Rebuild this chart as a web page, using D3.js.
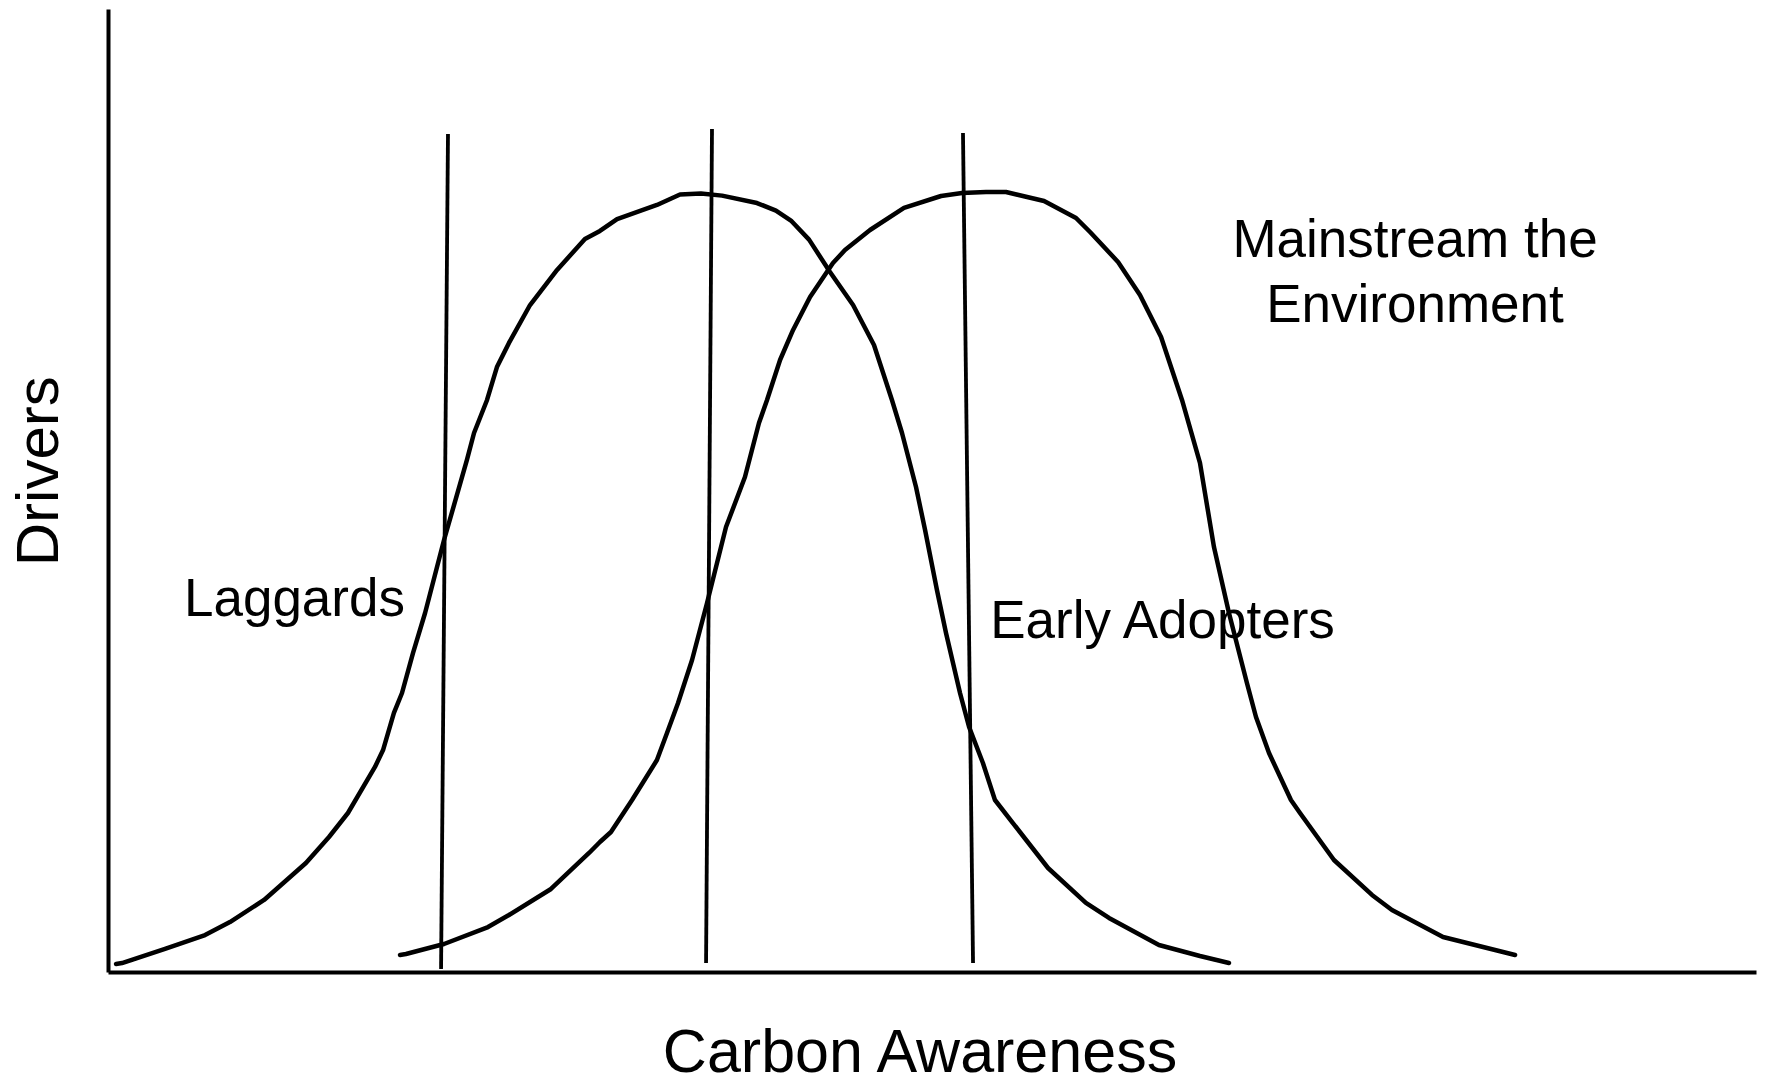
<!DOCTYPE html>
<html>
<head>
<meta charset="utf-8">
<script src="https://cdn.jsdelivr.net/npm/d3@7/dist/d3.min.js"></script>
<style>
  html, body { margin: 0; padding: 0; background: #fff; }
  svg { display: block; }
  text { font-family: "Liberation Sans", Arial, sans-serif; fill: #000; }
</style>
</head>
<body>
<svg id="chart" width="1768" height="1087"></svg>
<script>
// ---- Data (x = Carbon Awareness, y = Drivers, both 0..100) ----
const laggardsCurveX = [0.49,0.85,3.46,5.89,7.40,9.47,12.01,13.41,14.56,16.20,16.69,17.35,17.84,18.51,19.24,20.39,21.78,22.21,23.00,23.60,24.33,25.61,27.25,28.94,29.85,30.89,33.31,34.71,35.98,37.26,39.38,40.53,41.44,42.54,43.81,45.21,46.48,47.57,48.18,49.03,49.58,50.30,50.85,51.70,52.25,53.09,53.82,54.91,57.04,59.34,60.74,63.77,66.26,68.02];
const laggardsCurveY = [0.83,0.93,2.39,3.84,5.19,7.48,11.32,14.02,16.51,21.29,23.05,26.90,28.97,33.13,37.28,44.86,53.17,55.97,59.40,62.82,65.32,69.26,72.90,76.12,76.95,78.19,79.65,80.73,80.83,80.62,79.85,79.07,78.03,76.05,72.69,69.26,65.11,59.40,55.97,50.36,45.90,39.67,35.20,28.97,25.44,21.70,17.86,15.47,10.80,7.17,5.61,2.80,1.66,0.93];

const adoptersCurveX = [17.72,18.08,20.39,23.06,24.33,26.88,29.19,29.85,30.52,31.80,33.31,33.92,34.59,35.44,36.35,37.50,38.65,39.50,39.99,40.78,41.57,42.60,43.99,44.72,46.24,48.30,50.55,51.82,53.28,54.49,56.80,58.74,59.59,61.29,62.62,63.90,65.17,66.26,67.11,68.02,69.11,69.66,70.45,71.78,72.33,74.39,76.70,77.91,81.01,85.38];
const adoptersCurveY = [1.77,1.87,2.91,4.67,5.92,8.62,12.36,13.50,14.54,17.86,22.01,24.82,27.93,32.40,38.32,46.21,51.40,57.01,59.40,63.55,66.67,70.09,73.62,74.97,77.05,79.34,80.58,80.89,81.00,81.00,80.06,78.30,76.84,73.73,70.30,65.94,59.40,52.86,44.13,37.28,30.01,26.48,22.74,17.86,16.51,11.63,8.00,6.44,3.63,1.77];

// dividing lines: [x at top, y top, x at bottom, y bottom]
const dividerTopX = [20.63, 36.65, 51.88];
const dividerTopY = [87.02, 87.54, 87.12];
const dividerBottomX = [20.21, 36.29, 52.49];
const dividerBottomY = [0.31, 0.93, 0.93];

const labelTexts = [["Laggards"], ["Early Adopters"], ["Mainstream the", "Environment"]];
const labelX = [4.61, 53.53, 79.31];
const labelY = [36.97, 34.68, 74.28];
const xTitle = "Carbon Awareness";
const yTitle = "Drivers";

// ---- Scales ----
const x = d3.scaleLinear().domain([0, 100]).range([108, 1756]);
const y = d3.scaleLinear().domain([0, 100]).range([972, 9]);

const svg = d3.select("#chart");
svg.append("rect").attr("width", 1768).attr("height", 1087).attr("fill", "#fff");

// Axes (plain lines, no ticks)
const xAxis = d3.axisBottom(x).tickValues([]).tickSizeOuter(0);
const yAxis = d3.axisLeft(y).tickValues([]).tickSizeOuter(0);
svg.append("g").attr("transform", `translate(0,${y(0)})`).call(xAxis)
  .select(".domain").attr("stroke", "#000").attr("stroke-width", 4);
svg.append("g").attr("transform", `translate(${x(0)},0)`).call(yAxis)
  .select(".domain").attr("stroke", "#000").attr("stroke-width", 4);

// Curves
const line = d3.line().x(d => x(d[0])).y(d => y(d[1])).curve(d3.curveLinear);
const curves = [
  d3.zip(laggardsCurveX, laggardsCurveY),
  d3.zip(adoptersCurveX, adoptersCurveY)
];
svg.selectAll("path.curve").data(curves).enter().append("path")
  .attr("class", "curve")
  .attr("d", line)
  .attr("fill", "none")
  .attr("stroke", "#000")
  .attr("stroke-width", 4.5)
  .attr("stroke-linejoin", "round")
  .attr("stroke-linecap", "round");

// Dividers
svg.selectAll("line.div").data(dividerTopX.map((d, i) => i)).enter().append("line")
  .attr("class", "div")
  .attr("x1", i => x(dividerTopX[i])).attr("y1", i => y(dividerTopY[i]))
  .attr("x2", i => x(dividerBottomX[i])).attr("y2", i => y(dividerBottomY[i]))
  .attr("stroke", "#000").attr("stroke-width", 3.8);

// Labels
const lab = svg.selectAll("text.lab").data(labelTexts).enter().append("text")
  .attr("class", "lab")
  .attr("x", (d, i) => x(labelX[i]))
  .attr("y", (d, i) => y(labelY[i]))
  .attr("font-size", 53)
  .attr("text-anchor", (d, i) => i === 2 ? "middle" : "start");
lab.selectAll("tspan").data(d => d).enter().append("tspan")
  .attr("x", function() { return this.parentNode.getAttribute("x"); })
  .attr("dy", (d, j) => j === 0 ? 0 : 65)
  .text(d => d);

// Axis titles
svg.append("text")
  .attr("x", (x(0) + x(100)) / 2 - 12)
  .attr("y", 1072)
  .attr("text-anchor", "middle")
  .attr("font-size", 61)
  .text(xTitle);
svg.append("text")
  .attr("transform", `translate(58,${y(52)}) rotate(-90)`)
  .attr("text-anchor", "middle")
  .attr("font-size", 60)
  .text(yTitle);
</script>
</body>
</html>
